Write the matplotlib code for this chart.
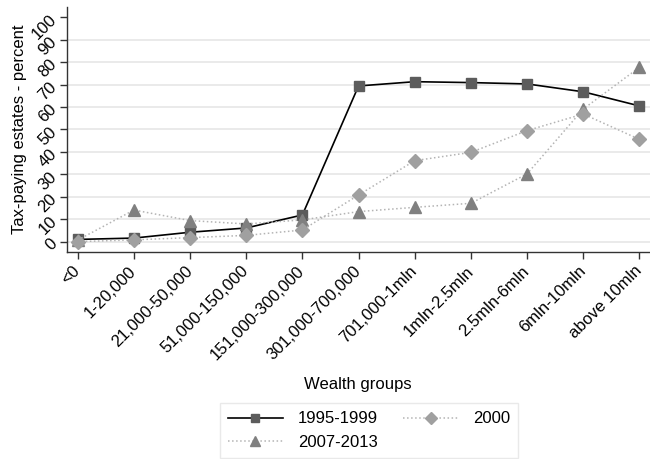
import matplotlib
matplotlib.use("Agg")
import matplotlib.pyplot as plt
import numpy as np

plt.rcParams["font.family"] = ["Liberation Sans", "DejaVu Sans"]
plt.rcParams["font.size"] = 12

GROUPS = [
    "<0", "1-20,000", "21,000-50,000", "51,000-150,000", "151,000-300,000",
    "301,000-700,000", "701,000-1mln", "1mln-2.5mln", "2.5mln-6mln",
    "6mln-10mln", "above 10mln",
]
P_1995_1999 = [1.0, 1.6, 4.2, 6.1, 11.9, 69.4, 71.3, 70.9, 70.3, 66.8, 60.5]
P_2000 = [0.0, 0.8, 1.8, 2.8, 5.2, 20.8, 36.1, 39.8, 49.5, 56.9, 45.6]
P_2007_2013 = [0.7, 14.1, 9.4, 7.9, 9.7, 13.4, 15.3, 17.1, 30.2, 59.1, 77.7]
Y_TICKS = list(range(0, 101, 10))


def main() -> None:
    fig = plt.figure(figsize=(6.5, 4.59), dpi=100)
    ax = fig.add_axes([0.1031, 0.451, 0.897, 0.5338])

    x = np.arange(len(GROUPS))

    for yv in Y_TICKS[:-1]:
        ax.axhline(yv, color="#e8e8e8", linewidth=1.3, zorder=0)

    h1, = ax.plot(x, P_1995_1999, color="black", linewidth=1.2,
                  marker="s", markersize=7.5, markerfacecolor="#5c5c5c",
                  markeredgecolor="#5c5c5c", label="1995-1999", zorder=3)
    h3, = ax.plot(x, P_2007_2013, color="#b4b4b4", linewidth=1.1, linestyle=":",
                  marker="^", markersize=8.5, markerfacecolor="#808080",
                  markeredgecolor="#808080", label="2007-2013", zorder=4)
    h2, = ax.plot(x, P_2000, color="#b4b4b4", linewidth=1.1, linestyle=":",
                  marker="D", markersize=7, markerfacecolor="#a0a0a0",
                  markeredgecolor="#a0a0a0", label="2000", zorder=5)

    ax.set_xlim(-0.19, len(GROUPS) - 1 + 0.19)
    ax.set_ylim(-4.6, 104.6)

    ax.set_xticks(x)
    ax.set_xticklabels(GROUPS, rotation=45, ha="right", va="center",
                       rotation_mode="anchor")
    ax.set_yticks(Y_TICKS)
    ax.set_yticklabels([str(v) for v in Y_TICKS], rotation=45, ha="right",
                       va="center", rotation_mode="anchor")
    ax.tick_params(axis="both", length=5, width=1, color="#333333")
    ax.tick_params(axis="x", pad=7)
    ax.tick_params(axis="y", pad=4)

    for side in ("top", "right"):
        ax.spines[side].set_visible(False)
    for side in ("left", "bottom"):
        ax.spines[side].set_color("#333333")
        ax.spines[side].set_linewidth(1)

    ax.set_ylabel("Tax-paying estates - percent", labelpad=2)
    fig.text(358 / 650, 1 - 385 / 459, "Wealth groups", ha="center", va="center")

    leg = fig.legend(handles=[h1, h3, h2], loc="upper center",
                     bbox_to_anchor=(369 / 650, 1 - 403 / 459), ncol=2,
                     frameon=True, fancybox=False, handlelength=3.3,
                     handletextpad=0.9, columnspacing=1.5, borderpad=0.5,
                     labelspacing=0.5, borderaxespad=0, markerscale=0.85)
    leg.get_frame().set_edgecolor("#e4e4e4")
    leg.get_frame().set_linewidth(1)

    fig.savefig("out.png", dpi=100)


if __name__ == "__main__":
    main()
